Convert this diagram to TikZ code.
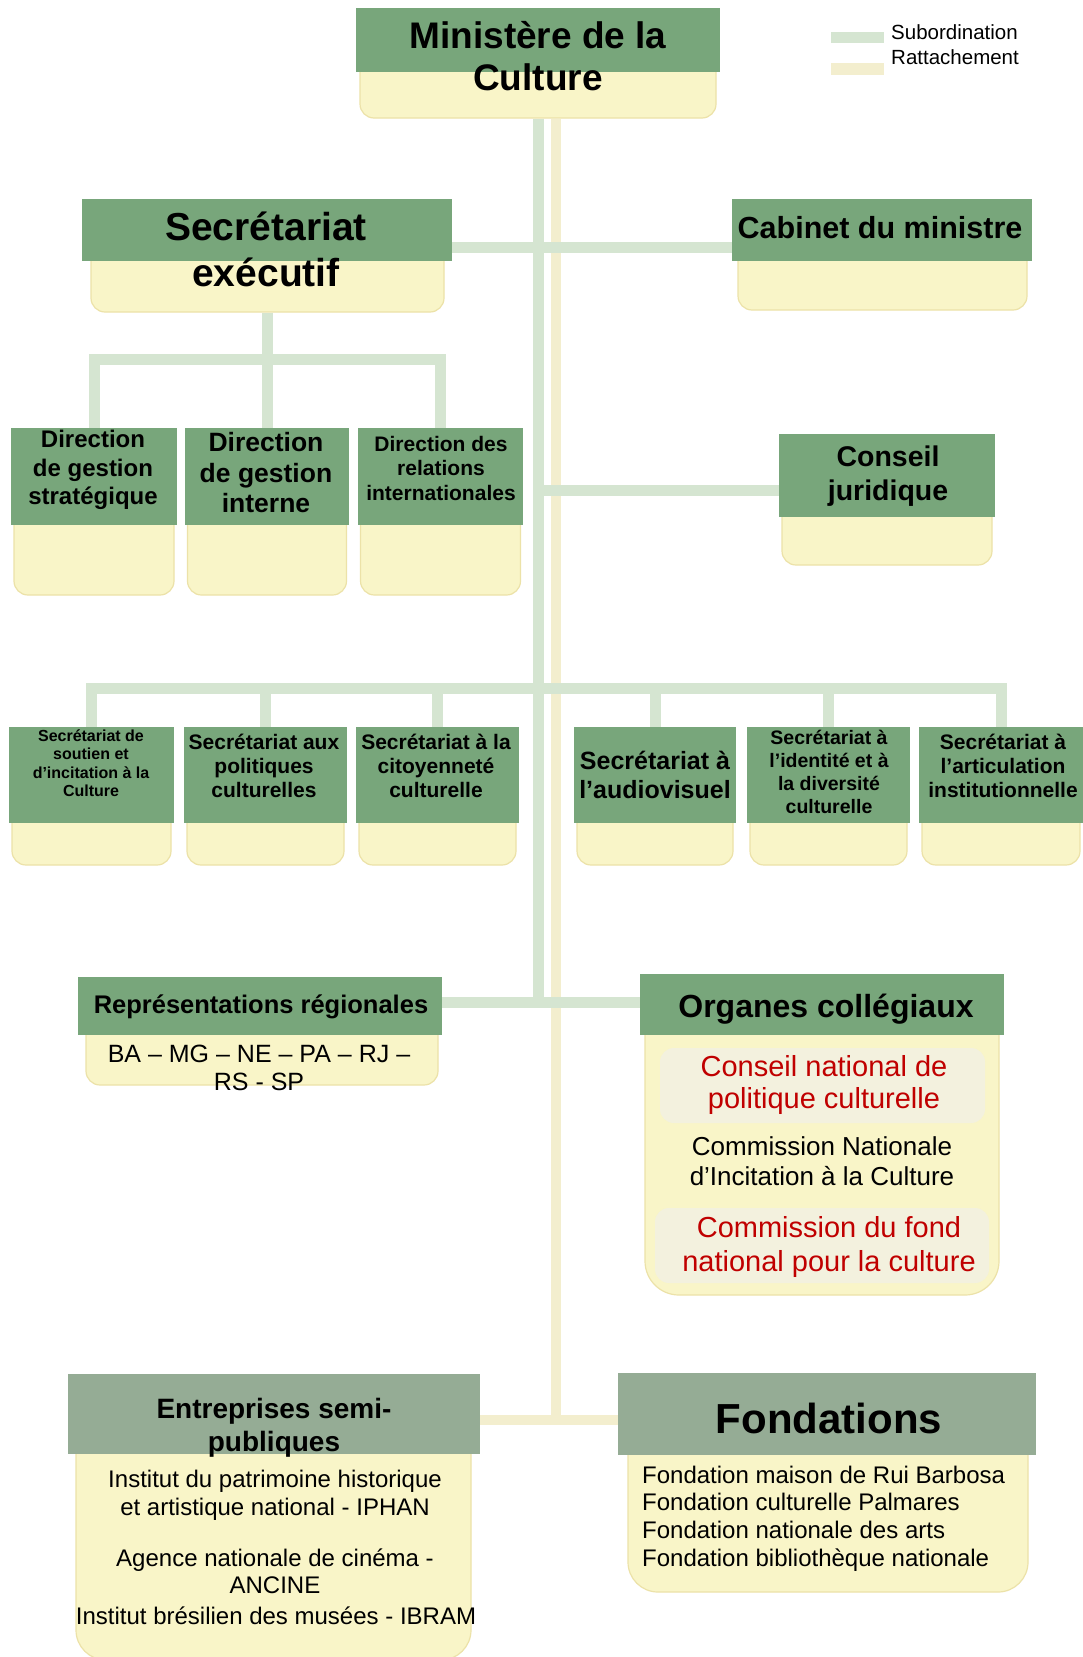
\documentclass[tikz,border=0pt]{standalone}
\usepackage{fontspec}
\setmainfont{Liberation Sans}
\usetikzlibrary{calc}
\definecolor{hdrgreen}{RGB}{120,166,123}
\definecolor{hdrgrey}{RGB}{149,172,149}
\definecolor{bodyyellow}{RGB}{249,245,200}
\definecolor{bodyedge}{RGB}{236,226,168}
\definecolor{innerbox}{RGB}{243,241,222}
\definecolor{subgreen}{RGB}{213,229,209}
\definecolor{ratyellow}{RGB}{243,238,206}
\definecolor{redtext}{RGB}{192,0,0}
\newcommand{\fsz}[2]{\fontsize{#1}{#2}\selectfont}
\tikzset{
  hdr/.style 2 args={fill=hdrgreen, inner sep=0pt, minimum width=#1, minimum height=#2},
  hdrlow/.style 2 args={fill=hdrgrey, inner sep=0pt, minimum width=#1, minimum height=#2},
  bodybox/.style 2 args={fill=bodyyellow, draw=bodyedge, line width=1.2pt, rounded corners=14pt,
    inner sep=0pt, minimum width=#1, minimum height=#2},
  lbl/.style={inner sep=0pt, align=center},
  subline/.style={draw=subgreen, line width=11pt},
  ratline/.style={draw=ratyellow, line width=10pt}
}
\begin{document}
\begin{tikzpicture}[x=1pt,y=-1pt]
\path[use as bounding box, fill=white] (0,0) rectangle (1083,1657);
% boxes
\node[bodybox={356pt}{98pt}] (min-b) at (538,69) {};
\node[hdr={364pt}{64pt}] (min) at (538,40) {};
\node[bodybox={353pt}{97pt}] (sec-b) at (267.5,263.5) {};
\node[hdr={370pt}{62pt}] (sec) at (267,230) {};
\node[bodybox={289pt}{95pt}] (cab-b) at (882.5,262.5) {};
\node[hdr={300pt}{62pt}] (cab) at (882,230) {};
\foreach \n/\cx/\w/\bw in {1/94/166/160, 2/267/164/159, 3/440.5/165/160} {
  \node[bodybox={\bw pt}{155pt}] (dir\n-b) at (\cx,517.5) {};
  \node[hdr={\w pt}{97pt}] (dir\n) at (\cx,476.5) {};
}
\node[bodybox={210pt}{119pt}] (cons-b) at (887,505.5) {};
\node[hdr={216pt}{83pt}] (cons) at (887,475.5) {};
\foreach \n/\cx/\w/\bw in {1/91.5/165/159, 2/265.5/163/157, 3/437.5/163/157,
    4/655/162/156, 5/828.5/163/157, 6/1001/164/158} {
  \node[bodybox={\bw pt}{125pt}] (s\n-b) at (\cx,802.5) {};
  \node[hdr={\w pt}{96pt}] (s\n) at (\cx,775) {};
}
\node[bodybox={352pt}{95pt}] (rep-b) at (262,1037.5) {};
\node[hdr={364pt}{58pt}] (rep) at (260,1006) {};
\node[bodybox={354pt}{305pt}, rounded corners=34pt] (org-b) at (822,1142.5) {};
\node[hdr={364pt}{61pt}] (org) at (822,1004.5) {};
\node[fill=innerbox, rounded corners=14pt, inner sep=0pt, minimum width=325pt, minimum height=75pt] (org-i1) at (822.5,1085.5) {};
\node[fill=innerbox, rounded corners=14pt, inner sep=0pt, minimum width=334pt, minimum height=75pt] (org-i2) at (822,1245.5) {};
\node[bodybox={395pt}{270pt}, rounded corners=30pt] (ent-b) at (273.5,1525) {};
\node[hdrlow={412pt}{80pt}] (ent) at (274,1414) {};
\node[bodybox={400pt}{202pt}, rounded corners=30pt] (fon-b) at (828,1491) {};
\node[hdrlow={418pt}{82pt}] (fon) at (827,1414) {};
% legend
\node[fill=subgreen, inner sep=0pt, minimum width=53pt, minimum height=11pt] (leg-sub) at (857.5,37.5) {};
\node[fill=ratyellow, inner sep=0pt, minimum width=53pt, minimum height=12pt] (leg-rat) at (857.5,69) {};
\node[anchor=west, inner sep=0pt, font=\fsz{20.5}{24}] (leg-sub-t) at (891,32) {Subordination};
\node[anchor=west, inner sep=0pt, font=\fsz{20.5}{24}] (leg-rat-t) at (891,57) {Rattachement};
% rattachement
\coordinate (rat-join) at (556,1420);
\draw[ratline] ([xshift=18pt]min-b.south) -- (rat-join);
\draw[ratline] (ent.east |- rat-join) -- (fon.west |- rat-join);
% subordination
\coordinate (sub-join) at (538,1002);
\draw[subline] (min-b.south) -- (sub-join);
\draw[subline] (rep.east |- sub-join) -- (org.west |- sub-join);
\draw[subline] ([yshift=-17pt]sec.east) -- ([yshift=-17pt]cab.west);
\coordinate (cons-join) at ($(cons.west)+(0,14.5)$);
\draw[subline] (min-b.south |- cons-join) -- (cons-join);
\coordinate (dir-join) at ($(sec-b.south)+(0,47)$);
\draw[subline] (sec-b.south) -- (sec-b.south |- dir2.north);
\draw[subline] (dir1.north) |- (dir-join) -| (dir3.north);
\coordinate (s-join) at (538,688);
\draw[subline] (s1.north) |- (s-join) -| (s6.north);
\foreach \n in {2,...,5} \draw[subline] (s\n.north) -- (s\n.north |- s-join);
% texts
\node[lbl, font=\bfseries\fsz{37}{42}] (min-t) at (538,56) {Ministère de la\\Culture};
\node[lbl, font=\bfseries\fsz{39}{46}] (sec-t) at (266,249) {Secrétariat\\exécutif};
\node[lbl, font=\bfseries\fsz{30.5}{36}] (cab-t) at (880,228) {Cabinet du ministre};
\node[lbl, font=\bfseries\fsz{24}{28.5}] (dir1-t) at (93,470) {Direction\\de gestion\\stratégique};
\node[lbl, font=\bfseries\fsz{26.5}{30.5}] (dir2-t) at (266,473) {Direction\\de gestion\\interne};
\node[lbl, font=\bfseries\fsz{21}{24.5}] (dir3-t) at (441,468) {Direction des\\relations\\internationales};
\node[lbl, font=\bfseries\fsz{28.5}{34}] (cons-t) at (888,476) {Conseil\\juridique};
\node[lbl, font=\bfseries\fsz{16}{18.5}] (s1-t) at (91,763) {Secrétariat de\\soutien et\\d’incitation à la\\Culture};
\node[lbl, font=\bfseries\fsz{21}{24}] (s2-t) at (264,766) {Secrétariat aux\\politiques\\culturelles};
\node[lbl, font=\bfseries\fsz{21}{24}] (s3-t) at (436,766) {Secrétariat à la\\citoyenneté\\culturelle};
\node[lbl, font=\bfseries\fsz{25}{28.5}] (s4-t) at (655,775) {Secrétariat à\\l’audiovisuel};
\node[lbl, font=\bfseries\fsz{19.5}{23}] (s5-t) at (829,772) {Secrétariat à\\l’identité et à\\la diversité\\culturelle};
\node[lbl, font=\bfseries\fsz{21}{24}] (s6-t) at (1003,766) {Secrétariat à\\l’articulation\\institutionnelle};
\node[lbl, font=\bfseries\fsz{25.5}{30}] (rep-t) at (261,1007) {Représentations régionales};
\node[lbl, font=\fsz{25}{28.5}] (rep-l) at (259,1068) {BA – MG – NE – PA – RJ –\\RS - SP};
\node[lbl, font=\bfseries\fsz{32}{38}] (org-t) at (826,1009) {Organes collégiaux};
\node[lbl, font=\fsz{29}{32.5}, text=redtext] (org-i1-t) at (824,1085) {Conseil national de\\politique culturelle};
\node[lbl, font=\fsz{26}{30}] (org-l) at (822,1161) {Commission Nationale\\d’Incitation à la Culture};
\node[lbl, font=\fsz{29}{34}, text=redtext] (org-i2-t) at (829,1246.5) {Commission du fond\\national pour la culture};
\node[lbl, font=\bfseries\fsz{28}{33}] (ent-t) at (274,1428) {Entreprises semi-\\publiques};
\node[lbl, font=\bfseries\fsz{42}{48}] (fon-t) at (829,1418) {Fondations};
\node[lbl, font=\fsz{24}{27.5}] (ent-l1) at (275,1495.5) {Institut du patrimoine historique\\et artistique national - IPHAN};
\node[lbl, font=\fsz{24}{27}] (ent-l2) at (275,1571.5) {Agence nationale de cinéma -\\ANCINE};
\node[lbl, font=\fsz{24}{27}] (ent-l3) at (276,1616) {Institut brésilien des musées - IBRAM};
\node[lbl, align=left, anchor=west, font=\fsz{24}{27.7}] (fon-l) at (642,1518.5) {Fondation maison de Rui Barbosa\\Fondation culturelle Palmares\\Fondation nationale des arts\\Fondation bibliothèque nationale};
\end{tikzpicture}
\end{document}
